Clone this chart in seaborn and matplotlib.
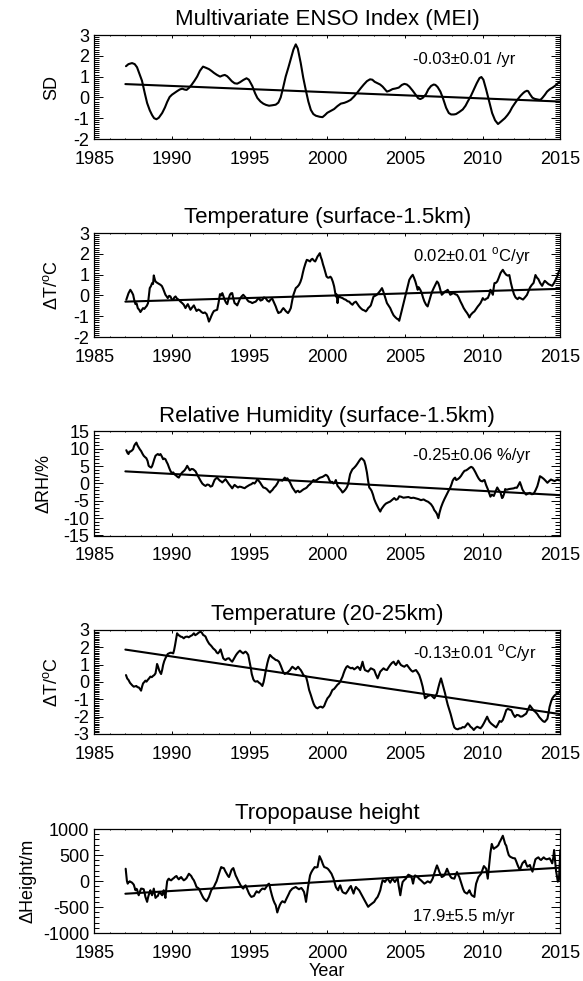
import matplotlib
matplotlib.use("Agg")
import matplotlib.pyplot as plt
from matplotlib.ticker import MultipleLocator
import numpy as np
import pandas as pd
import seaborn as sns

# ---- values ----
mei_year = [1987.04, 1987.2, 1987.43, 1987.6, 1987.75, 1987.9, 1988.07, 1988.25, 1988.4, 1988.57,
            1988.72, 1988.85, 1989.0, 1989.15, 1989.37, 1989.55, 1989.69, 1989.85, 1990.0, 1990.17,
            1990.33, 1990.5, 1990.66, 1990.8, 1990.94, 1991.1, 1991.26, 1991.45, 1991.62, 1991.8,
            1992.0, 1992.2, 1992.38, 1992.55, 1992.7, 1992.9, 1993.1, 1993.25, 1993.4, 1993.55,
            1993.67, 1993.85, 1994.03, 1994.2, 1994.38, 1994.6, 1994.8, 1994.95, 1995.17, 1995.35,
            1995.5, 1995.7, 1995.88, 1996.05, 1996.25, 1996.45, 1996.68, 1996.85, 1997.0, 1997.15,
            1997.32, 1997.5, 1997.65, 1997.82, 1997.97, 1998.1, 1998.29, 1998.45, 1998.61, 1998.78,
            1998.94, 1999.1, 1999.26, 1999.5, 1999.69, 1999.85, 2000.0, 2000.2, 2000.44, 2000.65,
            2000.87, 2001.1, 2001.3, 2001.5, 2001.73, 2001.95, 2002.16, 2002.35, 2002.55, 2002.75,
            2002.9, 2003.05, 2003.24, 2003.4, 2003.56, 2003.7, 2003.84, 2004.0, 2004.2, 2004.4,
            2004.6, 2004.8, 2004.96, 2005.12, 2005.28, 2005.5, 2005.71, 2005.85, 2005.99, 2006.15,
            2006.35, 2006.5, 2006.68, 2006.85, 2006.96, 2007.1, 2007.28, 2007.45, 2007.65, 2007.82,
            2007.97, 2008.15, 2008.29, 2008.5, 2008.72, 2008.9, 2009.04, 2009.25, 2009.43, 2009.62,
            2009.8, 2009.92, 2010.05, 2010.23, 2010.42, 2010.61, 2010.8, 2010.99, 2011.2, 2011.43,
            2011.6, 2011.75, 2011.9, 2012.07, 2012.25, 2012.43, 2012.6, 2012.71, 2012.85, 2012.93,
            2013.05, 2013.2, 2013.35, 2013.46, 2013.6, 2013.72, 2013.85, 2014.0, 2014.15, 2014.32,
            2014.5, 2014.65, 2014.8, 2014.97]
mei_val = [1.50, 1.60, 1.65, 1.60, 1.45, 1.15, 0.80, 0.20, -0.27, -0.62,
           -0.85, -1.00, -1.05, -0.98, -0.75, -0.48, -0.22, 0.02, 0.13, 0.22,
           0.30, 0.38, 0.42, 0.38, 0.36, 0.46, 0.60, 0.80, 1.00, 1.28,
           1.48, 1.42, 1.36, 1.27, 1.18, 1.08, 1.00, 1.05, 1.08, 1.02,
           0.93, 0.78, 0.68, 0.66, 0.73, 0.84, 0.92, 0.85, 0.55, 0.20,
           -0.03, -0.20, -0.30, -0.36, -0.40, -0.38, -0.35, -0.25, 0.00, 0.45,
           1.00, 1.45, 1.85, 2.30, 2.55, 2.35, 1.65, 0.95, 0.37, -0.20,
           -0.60, -0.80, -0.88, -0.93, -0.95, -0.85, -0.74, -0.66, -0.56, -0.42,
           -0.30, -0.26, -0.20, -0.12, 0.05, 0.25, 0.45, 0.62, 0.78, 0.87,
           0.85, 0.75, 0.68, 0.62, 0.52, 0.40, 0.28, 0.32, 0.40, 0.43,
           0.47, 0.60, 0.65, 0.62, 0.52, 0.32, 0.10, -0.04, -0.08, -0.02,
           0.15, 0.38, 0.55, 0.62, 0.60, 0.50, 0.28, -0.05, -0.50, -0.75,
           -0.82, -0.82, -0.80, -0.70, -0.58, -0.40, -0.20, 0.08, 0.37, 0.68,
           0.93, 0.98, 0.85, 0.37, -0.20, -0.75, -1.10, -1.28, -1.15, -1.00,
           -0.85, -0.69, -0.48, -0.29, -0.10, 0.07, 0.20, 0.27, 0.32, 0.30,
           0.15, -0.01, -0.07, -0.09, -0.11, -0.12, -0.02, 0.12, 0.28, 0.39,
           0.47, 0.55, 0.65, 0.76]

tsfc_year = [1987.06, 1987.2, 1987.32, 1987.42, 1987.5, 1987.58, 1987.65, 1987.72, 1987.8, 1987.9,
             1987.97, 1988.06, 1988.14, 1988.22, 1988.29, 1988.38, 1988.46, 1988.52, 1988.57, 1988.65,
             1988.72, 1988.78, 1988.83, 1988.9, 1988.94, 1989.02, 1989.09, 1989.17, 1989.26, 1989.35,
             1989.43, 1989.5, 1989.58, 1989.66, 1989.73, 1989.82, 1989.9, 1989.98, 1990.08, 1990.15,
             1990.23, 1990.32, 1990.44, 1990.55, 1990.66, 1990.76, 1990.87, 1990.95, 1991.02, 1991.1,
             1991.19, 1991.3, 1991.41, 1991.5, 1991.58, 1991.7, 1991.8, 1991.9, 1992.01, 1992.12,
             1992.23, 1992.3, 1992.38, 1992.45, 1992.53, 1992.62, 1992.7, 1992.8, 1992.91, 1993.0,
             1993.09, 1993.17, 1993.24, 1993.32, 1993.39, 1993.48, 1993.56, 1993.65, 1993.73, 1993.8,
             1993.88, 1993.95, 1994.03, 1994.12, 1994.2, 1994.3, 1994.38, 1994.48, 1994.59, 1994.68,
             1994.78, 1994.88, 1994.96, 1995.06, 1995.17, 1995.28, 1995.39, 1995.5, 1995.6, 1995.7,
             1995.82, 1995.92, 1996.03, 1996.14, 1996.25, 1996.35, 1996.46, 1996.57, 1996.68, 1996.76,
             1996.85, 1996.93, 1997.0, 1997.08, 1997.17, 1997.25, 1997.32, 1997.4, 1997.47, 1997.56,
             1997.65, 1997.74, 1997.82, 1997.9, 1997.97, 1998.08, 1998.18, 1998.27, 1998.35, 1998.43,
             1998.5, 1998.6, 1998.68, 1998.78, 1998.89, 1998.96, 1999.04, 1999.13, 1999.22, 1999.3,
             1999.37, 1999.45, 1999.52, 1999.58, 1999.65, 1999.72, 1999.8, 1999.88, 1999.95, 2000.04,
             2000.12, 2000.2, 2000.27, 2000.36, 2000.44, 2000.5, 2000.55, 2000.6, 2000.66, 2000.71,
             2000.76, 2000.87, 2000.98, 2001.08, 2001.19, 2001.3, 2001.41, 2001.5, 2001.62, 2001.72,
             2001.84, 2001.95, 2002.05, 2002.16, 2002.27, 2002.38, 2002.48, 2002.56, 2002.63, 2002.72,
             2002.8, 2002.9, 2002.98, 2003.08, 2003.19, 2003.27, 2003.34, 2003.43, 2003.52, 2003.6,
             2003.67, 2003.75, 2003.84, 2003.95, 2004.05, 2004.16, 2004.27, 2004.38, 2004.48, 2004.56,
             2004.63, 2004.7, 2004.78, 2004.87, 2004.96, 2005.05, 2005.13, 2005.2, 2005.28, 2005.4,
             2005.5, 2005.58, 2005.67, 2005.75, 2005.82, 2005.87, 2005.92, 2006.0, 2006.08, 2006.16,
             2006.25, 2006.36, 2006.46, 2006.57, 2006.68, 2006.76, 2006.85, 2006.95, 2007.06, 2007.14,
             2007.22, 2007.3, 2007.37, 2007.47, 2007.58, 2007.67, 2007.75, 2007.84, 2007.92, 2008.03,
             2008.14, 2008.25, 2008.35, 2008.46, 2008.57, 2008.68, 2008.78, 2008.9, 2009.0, 2009.08,
             2009.15, 2009.22, 2009.3, 2009.38, 2009.47, 2009.58, 2009.69, 2009.78, 2009.86, 2009.94,
             2010.01, 2010.08, 2010.16, 2010.25, 2010.33, 2010.43, 2010.5, 2010.58, 2010.66, 2010.71,
             2010.76, 2010.85, 2010.94, 2011.04, 2011.15, 2011.22, 2011.3, 2011.4, 2011.52, 2011.62,
             2011.72, 2011.82, 2011.92, 2012.02, 2012.12, 2012.25, 2012.35, 2012.48, 2012.6, 2012.72,
             2012.85, 2012.95, 2013.05, 2013.16, 2013.28, 2013.4, 2013.5, 2013.59, 2013.7, 2013.83,
             2013.92, 2014.0, 2014.12, 2014.24, 2014.36, 2014.48, 2014.6, 2014.72, 2014.8, 2014.88,
             2014.95, 2015.0]
tsfc_val = [-0.21, 0.10, 0.27, 0.15, 0.03, -0.25, -0.42, -0.38, -0.61, -0.70,
            -0.80, -0.70, -0.61, -0.65, -0.58, -0.50, -0.37, 0.00, 0.35, 0.45,
            0.59, 0.55, 0.96, 0.75, 0.67, 0.62, 0.59, 0.55, 0.51, 0.45,
            0.32, 0.18, 0.03, -0.05, -0.13, -0.02, -0.05, -0.18, -0.21, -0.10,
            -0.05, -0.15, -0.21, -0.30, -0.37, -0.45, -0.61, -0.50, -0.42, -0.55,
            -0.69, -0.58, -0.48, -0.62, -0.75, -0.68, -0.72, -0.80, -0.85, -0.82,
            -0.90, -1.05, -1.26, -1.15, -1.00, -0.85, -0.75, -0.72, -0.69, -0.35,
            0.06, 0.00, 0.11, -0.05, -0.21, -0.35, -0.42, -0.15, 0.03, 0.10,
            0.11, -0.15, -0.37, -0.42, -0.48, -0.30, -0.16, -0.05, 0.03, -0.05,
            -0.13, -0.25, -0.30, -0.32, -0.37, -0.33, -0.30, -0.20, -0.13, -0.25,
            -0.21, -0.10, -0.13, -0.25, -0.30, -0.20, -0.16, -0.35, -0.53, -0.70,
            -0.85, -0.82, -0.80, -0.70, -0.61, -0.68, -0.75, -0.80, -0.85, -0.75,
            -0.61, -0.25, 0.03, 0.20, 0.35, 0.42, 0.51, 0.65, 0.83, 1.10,
            1.31, 1.55, 1.71, 1.68, 1.63, 1.72, 1.76, 1.68, 1.63, 1.75,
            1.87, 1.95, 2.03, 1.85, 1.71, 1.50, 1.31, 1.10, 0.91, 0.85,
            0.86, 0.90, 0.83, 0.65, 0.43, 0.15, -0.05, 0.05, -0.37, -0.10,
            -0.05, -0.10, -0.13, -0.18, -0.21, -0.28, -0.30, -0.38, -0.45, -0.35,
            -0.30, -0.42, -0.53, -0.62, -0.69, -0.72, -0.77, -0.70, -0.61, -0.55,
            -0.48, -0.25, -0.05, -0.02, 0.03, 0.10, 0.16, 0.25, 0.35, 0.20,
            0.03, -0.15, -0.37, -0.50, -0.61, -0.80, -0.96, -1.05, -1.12, -1.15,
            -1.22, -1.00, -0.77, -0.50, -0.21, 0.05, 0.27, 0.50, 0.75, 0.90,
            0.99, 0.85, 0.67, 0.45, 0.27, 0.40, 0.35, 0.25, 0.11, -0.10,
            -0.29, -0.45, -0.53, -0.25, 0.03, 0.20, 0.35, 0.50, 0.67, 0.60,
            0.43, 0.20, 0.03, 0.10, 0.19, 0.22, 0.27, 0.15, 0.03, 0.08,
            0.11, 0.05, 0.03, -0.10, -0.29, -0.45, -0.61, -0.75, -0.85, -0.95,
            -1.06, -0.95, -0.88, -0.82, -0.77, -0.65, -0.53, -0.45, -0.37, -0.25,
            -0.13, -0.20, -0.21, -0.15, -0.13, 0.05, 0.27, 0.15, 0.03, 0.35,
            0.59, 0.60, 0.67, 0.85, 1.07, 1.15, 1.23, 1.10, 0.99, 0.95,
            0.98, 0.60, 0.30, 0.05, -0.10, -0.18, -0.10, -0.15, -0.20, -0.10,
            0.02, 0.20, 0.38, 0.50, 0.60, 0.98, 0.85, 0.78, 0.60, 0.46,
            0.60, 0.70, 0.62, 0.54, 0.50, 0.46, 0.60, 0.78, 0.90, 1.10,
            1.20, 1.30]

rh_year = [1987.06, 1987.14, 1987.2, 1987.26, 1987.32, 1987.42, 1987.5, 1987.56, 1987.62, 1987.71,
           1987.78, 1987.86, 1987.94, 1988.01, 1988.1, 1988.18, 1988.27, 1988.35, 1988.43, 1988.5,
           1988.58, 1988.66, 1988.72, 1988.78, 1988.86, 1988.94, 1989.02, 1989.09, 1989.18, 1989.26,
           1989.35, 1989.43, 1989.5, 1989.58, 1989.66, 1989.73, 1989.82, 1989.9, 1989.99, 1990.08,
           1990.18, 1990.29, 1990.36, 1990.44, 1990.55, 1990.66, 1990.74, 1990.81, 1990.9, 1990.98,
           1991.06, 1991.15, 1991.26, 1991.37, 1991.45, 1991.52, 1991.62, 1991.73, 1991.84, 1991.95,
           1992.05, 1992.16, 1992.27, 1992.38, 1992.48, 1992.59, 1992.67, 1992.74, 1992.82, 1992.91,
           1993.0, 1993.09, 1993.16, 1993.24, 1993.35, 1993.45, 1993.56, 1993.67, 1993.78, 1993.88,
           1993.95, 1994.03, 1994.14, 1994.25, 1994.35, 1994.46, 1994.57, 1994.68, 1994.78, 1994.89,
           1995.0, 1995.11, 1995.22, 1995.32, 1995.42, 1995.5, 1995.58, 1995.67, 1995.78, 1995.88,
           1996.0, 1996.1, 1996.2, 1996.31, 1996.38, 1996.46, 1996.57, 1996.68, 1996.78, 1996.89,
           1997.0, 1997.11, 1997.18, 1997.26, 1997.35, 1997.43, 1997.52, 1997.6, 1997.68, 1997.75,
           1997.86, 1997.97, 1998.05, 1998.12, 1998.2, 1998.29, 1998.4, 1998.5, 1998.6, 1998.68,
           1998.78, 1998.89, 1999.0, 1999.11, 1999.2, 1999.32, 1999.43, 1999.54, 1999.62, 1999.69,
           1999.8, 1999.9, 1999.98, 2000.05, 2000.13, 2000.22, 2000.3, 2000.4, 2000.48, 2000.55,
           2000.6, 2000.66, 2000.75, 2000.83, 2000.9, 2000.98, 2001.08, 2001.19, 2001.27, 2001.34,
           2001.4, 2001.47, 2001.55, 2001.62, 2001.72, 2001.84, 2001.95, 2002.05, 2002.13, 2002.2,
           2002.28, 2002.38, 2002.46, 2002.55, 2002.62, 2002.7, 2002.78, 2002.85, 2002.94, 2003.02,
           2003.12, 2003.24, 2003.33, 2003.41, 2003.48, 2003.56, 2003.66, 2003.77, 2003.9, 2004.05,
           2004.18, 2004.31, 2004.42, 2004.53, 2004.63, 2004.74, 2004.9, 2005.06, 2005.22, 2005.39,
           2005.55, 2005.71, 2005.87, 2006.03, 2006.2, 2006.35, 2006.5, 2006.68, 2006.8, 2006.89,
           2006.98, 2007.06, 2007.15, 2007.22, 2007.32, 2007.43, 2007.54, 2007.65, 2007.75, 2007.84,
           2007.92, 2008.0, 2008.07, 2008.15, 2008.23, 2008.3, 2008.4, 2008.5, 2008.61, 2008.72,
           2008.83, 2008.94, 2009.04, 2009.15, 2009.26, 2009.35, 2009.43, 2009.54, 2009.65, 2009.75,
           2009.86, 2009.98, 2010.05, 2010.12, 2010.22, 2010.33, 2010.42, 2010.5, 2010.6, 2010.72,
           2010.82, 2010.94, 2011.05, 2011.15, 2011.25, 2011.3, 2011.38, 2011.45, 2011.55, 2011.7,
           2011.85, 2012.0, 2012.1, 2012.2, 2012.3, 2012.4, 2012.48, 2012.56, 2012.68, 2012.8,
           2012.92, 2013.04, 2013.16, 2013.28, 2013.4, 2013.52, 2013.6, 2013.69, 2013.8, 2013.93,
           2014.05, 2014.17, 2014.28, 2014.4, 2014.52, 2014.64, 2014.75, 2014.84, 2014.92, 2015.0]
rh_val = [9.6, 8.8, 8.5, 9.2, 9.2, 9.5, 9.9, 10.8, 11.3, 11.8,
          11.0, 10.4, 9.8, 9.4, 8.6, 8.0, 7.6, 7.3, 6.5, 5.1,
          4.8, 4.6, 5.0, 5.8, 7.0, 8.0, 8.3, 8.5, 8.2, 8.5,
          7.8, 7.0, 7.2, 7.0, 6.2, 5.6, 4.5, 3.65, 3.0, 3.2,
          2.6, 2.2, 1.9, 1.7, 2.6, 3.2, 3.5, 3.8, 4.4, 5.1,
          4.5, 3.8, 4.2, 4.1, 3.8, 3.5, 2.6, 1.7, 0.8, 0.0,
          -0.4, -0.7, -0.3, -0.4, -0.9, -0.7, 0.2, 1.0, 1.4, 1.7,
          1.2, 0.8, 0.6, 0.3, 0.8, 1.25, 0.5, -0.2, -0.8, -1.4,
          -0.9, -0.4, -0.8, -1.15, -0.9, -1.0, -1.2, -1.35, -1.0, -0.7,
          -0.4, -0.2, 0.2, 0.0, 0.6, 1.25, 0.8, 0.3, -0.5, -1.15,
          -1.3, -1.6, -2.1, -2.6, -2.2, -1.9, -1.2, -0.7, 0.0, 1.0,
          0.9, 0.8, 1.2, 1.7, 1.3, 1.5, 0.9, 0.3, -0.5, -1.15,
          -1.9, -2.6, -2.2, -2.1, -2.5, -2.3, -1.9, -1.6, -1.4, -1.15,
          -0.6, -0.2, 0.4, 1.0, 0.8, 1.0, 1.4, 1.7, 1.8, 1.9,
          2.2, 2.5, 2.3, 1.9, 1.0, 0.3, 0.5, 0.0, 0.3, 1.0,
          0.2, -0.7, -1.2, -1.6, -2.0, -2.6, -2.2, -1.6, -1.0, -0.2,
          1.2, 2.7, 3.5, 4.1, 4.5, 5.1, 5.8, 6.5, 7.0, 7.3,
          7.0, 6.5, 5.2, 3.2, 1.0, -1.15, -1.6, -2.1, -3.2, -4.5,
          -5.6, -6.7, -7.5, -8.1, -7.4, -6.9, -6.3, -5.8, -5.5, -5.2,
          -4.7, -4.2, -4.7, -4.5, -3.7, -3.8, -4.1, -4.0, -3.9, -4.2,
          -4.1, -4.3, -4.5, -4.8, -4.6, -5.0, -5.3, -6.0, -6.8, -7.7,
          -8.2, -8.8, -10.0, -8.5, -6.9, -5.6, -4.5, -3.5, -2.6, -1.8,
          -1.15, -0.2, 0.8, 1.4, 1.7, 1.0, 1.25, 1.6, 2.2, 3.0,
          3.65, 3.8, 4.1, 4.5, 4.8, 4.6, 4.1, 3.2, 2.2, 1.4,
          0.8, 0.6, 0.9, 1.0, -0.4, -1.6, -2.8, -3.8, -3.2, -3.6,
          -2.4, -1.15, -2.0, -2.6, -4.2, -4.0, -3.0, -1.6, -1.8, -1.6,
          -1.5, -1.4, -1.2, -1.25, -0.5, 0.4, -0.6, -1.7, -2.6, -3.2,
          -2.9, -2.7, -3.1, -3.0, -2.0, -0.8, 0.5, 2.1, 1.8, 1.35,
          0.8, 0.2, 0.7, 1.15, 0.9, 0.7, 1.0, 1.15, 0.9, 1.0]

tstr_year = [1987.04, 1987.12, 1987.2, 1987.3, 1987.37, 1987.45, 1987.54, 1987.62, 1987.71, 1987.78,
             1987.86, 1987.94, 1988.01, 1988.08, 1988.14, 1988.22, 1988.29, 1988.36, 1988.44, 1988.52,
             1988.61, 1988.7, 1988.78, 1988.86, 1988.94, 1989.0, 1989.04, 1989.1, 1989.17, 1989.24,
             1989.3, 1989.37, 1989.43, 1989.5, 1989.58, 1989.66, 1989.73, 1989.82, 1989.9, 1990.0,
             1990.08, 1990.14, 1990.2, 1990.27, 1990.33, 1990.42, 1990.48, 1990.55, 1990.65, 1990.76,
             1990.86, 1990.98, 1991.08, 1991.19, 1991.3, 1991.41, 1991.5, 1991.62, 1991.72, 1991.84,
             1991.92, 1992.01, 1992.08, 1992.16, 1992.24, 1992.31, 1992.4, 1992.48, 1992.56, 1992.65,
             1992.73, 1992.81, 1992.88, 1992.96, 1993.05, 1993.13, 1993.22, 1993.3, 1993.38, 1993.45,
             1993.56, 1993.67, 1993.78, 1993.88, 1993.96, 1994.03, 1994.12, 1994.2, 1994.3, 1994.38,
             1994.48, 1994.59, 1994.67, 1994.74, 1994.82, 1994.91, 1994.98, 1995.06, 1995.14, 1995.24,
             1995.32, 1995.39, 1995.5, 1995.6, 1995.7, 1995.82, 1995.9, 1995.97, 1996.05, 1996.14,
             1996.22, 1996.31, 1996.38, 1996.46, 1996.57, 1996.68, 1996.78, 1996.89, 1997.0, 1997.11,
             1997.18, 1997.26, 1997.34, 1997.43, 1997.52, 1997.6, 1997.68, 1997.75, 1997.86, 1997.97,
             1998.04, 1998.12, 1998.2, 1998.29, 1998.38, 1998.46, 1998.55, 1998.63, 1998.72, 1998.83,
             1998.94, 1999.04, 1999.12, 1999.19, 1999.28, 1999.37, 1999.48, 1999.58, 1999.7, 1999.8,
             1999.9, 2000.01, 2000.1, 2000.18, 2000.25, 2000.33, 2000.44, 2000.55, 2000.66, 2000.76,
             2000.87, 2000.98, 2001.05, 2001.13, 2001.22, 2001.3, 2001.4, 2001.52, 2001.62, 2001.73,
             2001.84, 2001.95, 2002.04, 2002.12, 2002.2, 2002.27, 2002.34, 2002.42, 2002.52, 2002.63,
             2002.72, 2002.8, 2002.9, 2003.02, 2003.12, 2003.24, 2003.32, 2003.41, 2003.52, 2003.62,
             2003.72, 2003.84, 2003.95, 2004.05, 2004.16, 2004.27, 2004.35, 2004.42, 2004.5, 2004.57,
             2004.65, 2004.74, 2004.86, 2004.96, 2005.05, 2005.13, 2005.24, 2005.34, 2005.42, 2005.5,
             2005.6, 2005.71, 2005.82, 2005.92, 2006.03, 2006.14, 2006.22, 2006.29, 2006.38, 2006.46,
             2006.57, 2006.68, 2006.78, 2006.89, 2006.98, 2007.06, 2007.14, 2007.22, 2007.32, 2007.4,
             2007.5, 2007.58, 2007.65, 2007.75, 2007.86, 2007.94, 2008.01, 2008.1, 2008.18, 2008.28,
             2008.4, 2008.5, 2008.61, 2008.72, 2008.83, 2008.94, 2009.04, 2009.12, 2009.22, 2009.32,
             2009.43, 2009.54, 2009.65, 2009.75, 2009.86, 2009.97, 2010.08, 2010.18, 2010.29, 2010.36,
             2010.44, 2010.55, 2010.66, 2010.76, 2010.87, 2010.98, 2011.09, 2011.2, 2011.3, 2011.4,
             2011.52, 2011.62, 2011.75, 2011.85, 2011.96, 2012.08, 2012.2, 2012.32, 2012.44, 2012.56,
             2012.68, 2012.8, 2012.92, 2013.04, 2013.12, 2013.2, 2013.3, 2013.4, 2013.52, 2013.64,
             2013.74, 2013.83, 2013.92, 2014.0, 2014.1, 2014.17, 2014.24, 2014.31, 2014.4, 2014.48,
             2014.56, 2014.64, 2014.74, 2014.84, 2014.92, 2015.0]
tstr_val = [0.40, 0.20, 0.12, -0.05, -0.12, -0.20, -0.27, -0.25, -0.23, -0.30,
            -0.31, -0.40, -0.50, -0.25, -0.08, 0.00, 0.08, 0.02, 0.12, 0.20,
            0.31, 0.28, 0.35, 0.40, 0.50, 0.80, 1.04, 0.90, 0.69, 0.55,
            0.46, 0.70, 0.98, 1.20, 1.37, 1.50, 1.62, 1.66, 1.69, 1.68,
            1.65, 1.85, 2.13, 2.50, 2.81, 2.70, 2.68, 2.62, 2.60, 2.52,
            2.60, 2.62, 2.58, 2.65, 2.70, 2.81, 2.70, 2.77, 2.85, 2.90,
            2.85, 2.71, 2.68, 2.62, 2.45, 2.33, 2.20, 2.13, 2.05, 1.94,
            1.88, 1.81, 1.70, 1.65, 1.75, 1.88, 1.60, 1.37, 1.30, 1.27,
            1.35, 1.37, 1.25, 1.17, 1.30, 1.42, 1.55, 1.65, 1.75, 1.81,
            1.72, 1.65, 1.72, 1.75, 1.68, 1.56, 1.25, 0.88, 0.45, 0.15,
            0.05, 0.02, 0.05, -0.04, -0.10, -0.23, 0.00, 0.31, 0.70, 1.08,
            1.35, 1.56, 1.50, 1.42, 1.35, 1.27, 1.25, 1.17, 0.95, 0.69,
            0.55, 0.46, 0.52, 0.54, 0.62, 0.69, 0.80, 0.88, 0.80, 0.73,
            0.80, 0.88, 0.78, 0.69, 0.55, 0.40, 0.35, 0.31, 0.00, -0.46,
            -0.75, -1.04, -1.25, -1.38, -1.48, -1.52, -1.45, -1.42, -1.48, -1.38,
            -1.15, -0.94, -0.85, -0.75, -0.62, -0.46, -0.40, -0.27, -0.15, -0.08,
            0.10, 0.31, 0.50, 0.69, 0.85, 0.92, 0.85, 0.79, 0.82, 0.73,
            0.80, 0.88, 0.80, 0.69, 0.95, 1.17, 0.90, 0.69, 0.65, 0.60,
            0.70, 0.79, 0.75, 0.69, 0.45, 0.21, 0.40, 0.60, 0.70, 0.79,
            0.72, 0.69, 0.85, 0.98, 1.10, 1.17, 1.05, 0.98, 1.10, 1.23,
            1.10, 0.98, 0.92, 0.88, 0.95, 0.98, 0.85, 0.73, 0.65, 0.60,
            0.65, 0.69, 0.55, 0.40, 0.10, -0.27, -0.65, -0.94, -0.88, -0.81,
            -0.78, -0.75, -0.85, -0.94, -0.80, -0.65, -0.35, -0.08, 0.21, -0.05,
            -0.37, -0.65, -0.94, -1.30, -1.62, -1.85, -2.10, -2.40, -2.62, -2.70,
            -2.73, -2.68, -2.67, -2.60, -2.62, -2.50, -2.38, -2.45, -2.58, -2.65,
            -2.77, -2.65, -2.58, -2.62, -2.67, -2.55, -2.38, -2.20, -2.00, -2.15,
            -2.29, -2.40, -2.48, -2.55, -2.62, -2.45, -2.25, -2.30, -2.19, -1.95,
            -1.62, -1.55, -1.60, -1.63, -1.85, -2.02, -1.90, -1.92, -2.00, -1.98,
            -1.90, -1.83, -1.60, -1.35, -1.45, -1.54, -1.65, -1.73, -1.85, -2.02,
            -2.12, -2.21, -2.28, -2.30, -2.20, -2.12, -1.80, -1.44, -1.15, -0.96,
            -0.85, -0.77, -0.70, -0.67, -0.60, -0.48]

trop_year = [1987.02, 1987.1, 1987.15, 1987.22, 1987.28, 1987.36, 1987.43, 1987.54, 1987.6, 1987.65,
             1987.7, 1987.75, 1987.8, 1987.86, 1987.94, 1988.01, 1988.1, 1988.18, 1988.24, 1988.29,
             1988.35, 1988.4, 1988.45, 1988.5, 1988.56, 1988.61, 1988.66, 1988.72, 1988.78, 1988.83,
             1988.89, 1988.94, 1989.02, 1989.09, 1989.15, 1989.22, 1989.3, 1989.37, 1989.42, 1989.47,
             1989.52, 1989.58, 1989.63, 1989.69, 1989.75, 1989.8, 1989.88, 1989.95, 1990.04, 1990.12,
             1990.2, 1990.29, 1990.36, 1990.44, 1990.52, 1990.59, 1990.68, 1990.76, 1990.85, 1990.94,
             1991.02, 1991.09, 1991.16, 1991.24, 1991.32, 1991.41, 1991.5, 1991.58, 1991.66, 1991.73,
             1991.8, 1991.88, 1991.96, 1992.05, 1992.14, 1992.23, 1992.3, 1992.38, 1992.46, 1992.53,
             1992.62, 1992.7, 1992.78, 1992.87, 1992.94, 1993.02, 1993.1, 1993.17, 1993.25, 1993.34,
             1993.43, 1993.52, 1993.6, 1993.67, 1993.75, 1993.82, 1993.88, 1993.95, 1994.02, 1994.1,
             1994.18, 1994.25, 1994.34, 1994.42, 1994.5, 1994.59, 1994.66, 1994.74, 1994.85, 1994.96,
             1995.04, 1995.11, 1995.2, 1995.28, 1995.36, 1995.45, 1995.52, 1995.6, 1995.7, 1995.82,
             1995.9, 1995.97, 1996.06, 1996.14, 1996.2, 1996.25, 1996.3, 1996.35, 1996.44, 1996.53,
             1996.6, 1996.68, 1996.73, 1996.78, 1996.86, 1996.94, 1997.02, 1997.11, 1997.18, 1997.26,
             1997.34, 1997.43, 1997.52, 1997.6, 1997.68, 1997.75, 1997.86, 1997.97, 1998.08, 1998.18,
             1998.25, 1998.33, 1998.42, 1998.5, 1998.57, 1998.63, 1998.7, 1998.76, 1998.83, 1998.89,
             1998.96, 1999.04, 1999.12, 1999.19, 1999.28, 1999.37, 1999.44, 1999.5, 1999.56, 1999.63,
             1999.72, 1999.8, 1999.88, 1999.97, 2000.05, 2000.12, 2000.2, 2000.27, 2000.34, 2000.4,
             2000.48, 2000.55, 2000.62, 2000.7, 2000.76, 2000.83, 2000.9, 2000.98, 2001.08, 2001.19,
             2001.27, 2001.34, 2001.43, 2001.52, 2001.6, 2001.69, 2001.76, 2001.84, 2001.95, 2002.05,
             2002.16, 2002.27, 2002.38, 2002.48, 2002.56, 2002.63, 2002.72, 2002.8, 2002.9, 2003.02,
             2003.12, 2003.24, 2003.32, 2003.41, 2003.48, 2003.56, 2003.64, 2003.71, 2003.8, 2003.88,
             2003.96, 2004.05, 2004.12, 2004.2, 2004.28, 2004.35, 2004.44, 2004.53, 2004.6, 2004.7,
             2004.78, 2004.85, 2004.96, 2005.06, 2005.14, 2005.22, 2005.3, 2005.39, 2005.46, 2005.52,
             2005.58, 2005.65, 2005.74, 2005.82, 2005.92, 2006.03, 2006.14, 2006.25, 2006.36, 2006.46,
             2006.55, 2006.63, 2006.7, 2006.78, 2006.86, 2006.93, 2007.0, 2007.06, 2007.14, 2007.22,
             2007.3, 2007.37, 2007.46, 2007.54, 2007.62, 2007.71, 2007.78, 2007.86, 2007.94, 2008.01,
             2008.1, 2008.18, 2008.26, 2008.35, 2008.42, 2008.5, 2008.58, 2008.66, 2008.74, 2008.83,
             2008.92, 2009.0, 2009.08, 2009.15, 2009.22, 2009.3, 2009.38, 2009.47, 2009.53, 2009.58,
             2009.66, 2009.73, 2009.82, 2009.9, 2010.0, 2010.08, 2010.16, 2010.23, 2010.28, 2010.33,
             2010.42, 2010.5, 2010.55, 2010.59, 2010.66, 2010.72, 2010.8, 2010.87, 2010.95, 2011.02,
             2011.08, 2011.15, 2011.22, 2011.3, 2011.38, 2011.45, 2011.52, 2011.6, 2011.68, 2011.76,
             2011.85, 2011.96, 2012.08, 2012.16, 2012.25, 2012.32, 2012.4, 2012.48, 2012.56, 2012.65,
             2012.73, 2012.8, 2012.88, 2012.96, 2013.04, 2013.12, 2013.21, 2013.3, 2013.4, 2013.5,
             2013.59, 2013.68, 2013.76, 2013.85, 2013.93, 2014.02, 2014.12, 2014.22, 2014.31, 2014.4,
             2014.48, 2014.55, 2014.6, 2014.66, 2014.72, 2014.78, 2014.84, 2014.91, 2014.96, 2015.0]
trop_val = [236, 0, -51, -20, -6, -20, -32, -70, -130, -178,
            -150, -159, -220, -274, -200, -146, -150, -159, -230, -306,
            -360, -401, -330, -274, -220, -178, -230, -274, -200, -146,
            -250, -325, -300, -287, -240, -210, -250, -274, -220, -178,
            -250, -325, -160, -6, 30, 45, 20, 13, 40, 57,
            80, 96, 60, 32, 60, 76, 40, 13, 30, 57,
            100, 140, 120, 96, 50, 13, -50, -115, -130, -146,
            -190, -242, -290, -338, -365, -389, -350, -306, -240, -178,
            -140, -115, -60, -6, 60, 140, 210, 268, 255, 248,
            190, 140, 100, 76, 140, 204, 230, 248, 180, 108,
            60, 13, -40, -83, -120, -146, -110, -83, -160, -242,
            -280, -306, -295, -287, -240, -197, -215, -223, -180, -146,
            -150, -159, -120, -83, -60, -51, -110, -178, -280, -369,
            -420, -465, -540, -605, -530, -465, -420, -389, -400, -414,
            -360, -306, -250, -197, -170, -146, -130, -115, -140, -159,
            -145, -134, -170, -210, -300, -401, -250, -115, 0, 108,
            160, 204, 240, 268, 260, 268, 380, 478, 440, 395,
            320, 268, 260, 248, 230, 204, 170, 140, 90, 45,
            -40, -115, -150, -178, -120, -83, -150, -210, -230, -242,
            -210, -178, -130, -96, -170, -242, -170, -115, -150, -178,
            -240, -306, -360, -414, -460, -497, -470, -452, -430, -401,
            -350, -306, -250, -178, -80, 13, 0, -19, 20, 57,
            10, -32, 10, 45, 10, -19, 20, 45, -100, -274,
            -120, -19, 20, 45, 90, 121, 110, 96, 30, -51,
            40, 108, 90, 76, 40, 13, -20, -51, -30, -6,
            -20, -32, 0, 45, 120, 185, 250, 300, 240, 172,
            120, 76, 90, 108, 170, 236, 180, 121, 80, 57,
            50, 45, 110, 172, 120, 76, 0, -83, -150, -210,
            -230, -242, -210, -178, -230, -274, -290, -306, -150, -51,
            20, 76, 110, 140, 220, 287, 260, 236, 140, 45,
            300, 541, 640, 713, 650, 618, 640, 650, 670, 694,
            740, 777, 820, 870, 790, 713, 680, 580, 500, 470,
            455, 440, 436, 380, 308, 260, 212, 280, 340, 370,
            391, 330, 276, 290, 308, 240, 180, 300, 417, 440,
            455, 420, 404, 430, 455, 430, 417, 425, 436, 390,
            340, 450, 596, 400, 212, 100, -13, 19, 300, 596]

# linear trends: value at 1987.0 and rate per year
trend_start = [0.64, -0.30, 3.5, 1.87, -245.0]
trend_slope = [-0.03, 0.022, -0.245, -0.133, 17.9]
trend_years = [1987.0, 2015.0]

titles = ["Multivariate ENSO Index (MEI)", "Temperature (surface-1.5km)",
          "Relative Humidity (surface-1.5km)", "Temperature (20-25km)", "Tropopause height"]
ylabels = ["SD", r"ΔT/$^{\mathrm{o}}$C", "ΔRH/%", r"ΔT/$^{\mathrm{o}}$C", "ΔHeight/m"]
rates = ["-0.03±0.01 /yr", r"0.02±0.01 $^{\mathrm{o}}$C/yr", "-0.25±0.06 %/yr",
         r"-0.13±0.01 $^{\mathrm{o}}$C/yr", "17.9±5.5 m/yr"]
ylims = [(-2, 3), (-2, 3), (-15, 15), (-3, 3), (-1000, 1000)]
ymajor = [1, 1, 5, 1, 500]
yminor = [0.1, 0.1, 1, 0.1, 100]

series_year = [mei_year, tsfc_year, rh_year, tstr_year, trop_year]
series_val = [mei_val, tsfc_val, rh_val, tstr_val, trop_val]

# layout (pixel positions measured on the reference)
panel_bottom_px = [139, 337, 535.5, 734, 933]
label_x = [-0.091, -0.091, -0.108, -0.091, -0.142]
rate_y = [0.76, 0.774, 0.766, 0.777, 0.16]

sns.set_theme(style="ticks", rc={"axes.edgecolor": "black", "xtick.color": "black",
                                 "ytick.color": "black", "text.color": "black",
                                 "axes.labelcolor": "black"})
plt.rcParams["font.family"] = ["Liberation Sans", "DejaVu Sans"]
plt.rcParams["mathtext.fontset"] = "custom"
plt.rcParams["mathtext.rm"] = "Liberation Sans"
plt.rcParams["axes.unicode_minus"] = False

W, H = 583, 981
fig = plt.figure(figsize=(W / 100, H / 100), dpi=100)

for i in range(5):
    ax = fig.add_axes([94.3 / W, 1 - panel_bottom_px[i] / H, 466 / W, 104 / H])
    df = pd.DataFrame({"Year": series_year[i], "value": series_val[i]})
    sns.lineplot(data=df, x="Year", y="value", ax=ax, color="black",
                 linewidth=1.5, estimator=None, sort=False)

    ty = trend_start[i] + trend_slope[i] * (np.array(trend_years) - 1987.0)
    sns.lineplot(x=trend_years, y=ty, ax=ax, color="black", linewidth=1.5)

    ax.set_xlim(1985, 2015)
    ax.set_ylim(*ylims[i])
    ax.xaxis.set_major_locator(MultipleLocator(5))
    ax.xaxis.set_minor_locator(MultipleLocator(1))
    ax.yaxis.set_major_locator(MultipleLocator(ymajor[i]))
    ax.yaxis.set_minor_locator(MultipleLocator(yminor[i]))
    ax.tick_params(which="both", direction="in", top=True, right=True,
                   width=0.7, labelsize=13)
    ax.tick_params(axis="x", which="major", length=2.0, pad=8.5)
    ax.tick_params(axis="x", which="minor", length=1.0)
    ax.tick_params(axis="y", which="major", length=6.7, pad=3.5)
    ax.tick_params(axis="y", which="minor", length=3.4)
    for s in ax.spines.values():
        s.set_linewidth(0.9)

    ax.set_title(titles[i], fontsize=16, pad=7)
    ax.set_ylabel(ylabels[i], fontsize=13)
    ax.yaxis.set_label_coords(label_x[i], 0.5)
    ax.yaxis.label.set_va("center")
    ax.set_xlabel("Year" if i == 4 else "", fontsize=13, labelpad=1)

    ax.text(0.684, rate_y[i], rates[i], transform=ax.transAxes,
            ha="left", va="center", fontsize=12)

fig.savefig("out.png", dpi=100)
